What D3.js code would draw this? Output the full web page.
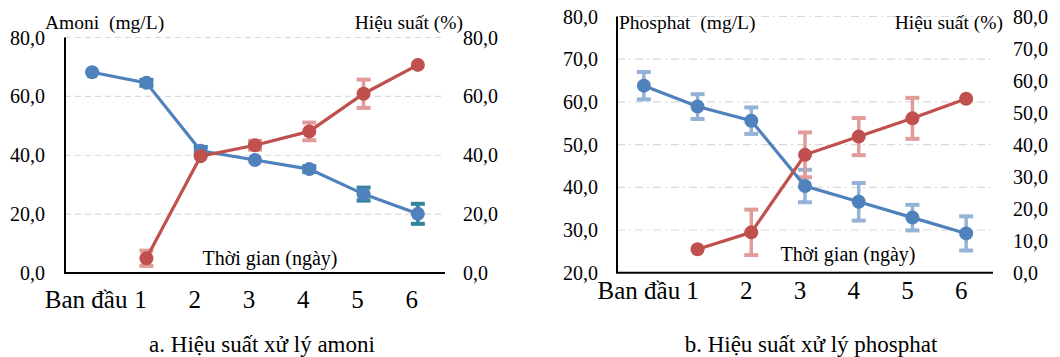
<!DOCTYPE html>
<html><head><meta charset="utf-8">
<script src="https://cdn.jsdelivr.net/npm/d3@7"></script>
<style>
body{margin:0;background:#fff;}
</style></head>
<body><svg id="c" width="1060" height="357"></svg>
<script>
const categories = ["Ban đầu","1","2","3","4","5","6"];
const amoniConc    = [68.2, 64.6, 41.5, 38.4, 35.3, 26.8, 20.1];
const amoniConcErr = [0, 1.0, 1.3, 0, 1.0, 2.2, 3.4];
const amoniEff     = [null, 5.0, 39.7, 43.4, 48.1, 60.9, 70.7];
const amoniEffErr  = [null, 2.6, 0, 1.5, 3.0, 4.8, 0];
const phosConc     = [63.8, 58.9, 55.6, 40.3, 36.6, 32.9, 29.2];
const phosConcErr  = [3.2, 2.9, 3.1, 3.8, 4.4, 3.0, 4.0];
const phosEff      = [null, 7.3, 12.6, 36.8, 42.5, 48.2, 54.3];
const phosEffErr   = [null, 0, 7.1, 7.0, 5.8, 6.4, 0];
const ticksLeftA  = [0, 20, 40, 60, 80];
const ticksRightA = [0, 20, 40, 60, 80];
const ticksLeftB  = [20, 30, 40, 50, 60, 70, 80];
const ticksRightB = [0, 10, 20, 30, 40, 50, 60, 70, 80];

const FONT = '"Liberation Serif"';
const svg = d3.select("#c");
const fmt = v => d3.format(".1f")(v).replace(".", ",");

function drawChart(o){
  const g = svg.append("g");
  const x = d3.scaleBand().domain(categories).range([o.x0, o.x1]);
  const xl = d3.scaleBand().domain(categories).range([o.x0 + o.labShift, o.x1 + o.labShift]);
  const yL = d3.scaleLinear().domain(o.leftDom).range([o.yBot, o.yTop]);
  const yR = d3.scaleLinear().domain(o.rightDom).range([o.yBot, o.yTop]);
  const cx = c => x(c) + x.bandwidth()/2;
  const txt = sel => sel.style("font-family", FONT).attr("fill", "#000");

  g.selectAll(".grid").data(o.leftTicks.filter(t => t !== o.leftDom[0])).enter().append("line")
    .attr("x1", o.x0).attr("x2", o.x1).attr("y1", d => yL(d)).attr("y2", d => yL(d))
    .attr("stroke", "#d9d9d9").attr("stroke-width", 1.2).attr("stroke-dasharray", o.gridDash);

  g.append("line").attr("x1", o.x0).attr("x2", o.x0).attr("y1", yL(o.leftDom[1])).attr("y2", o.yBot)
    .attr("stroke", "#000").attr("stroke-width", 2);
  g.append("line").attr("x1", o.x0 - 1).attr("x2", o.x1).attr("y1", o.yBot).attr("y2", o.yBot)
    .attr("stroke", "#000").attr("stroke-width", 2);

  g.selectAll(".tl").data(o.leftTicks).enter().append("text").call(txt)
    .attr("x", o.x0 + o.leftLabOff).attr("y", d => yL(d)).attr("dy", "0.35em")
    .attr("text-anchor", "end").attr("font-size", 20).text(fmt);
  g.selectAll(".tr").data(o.rightTicks).enter().append("text").call(txt)
    .attr("x", o.x1 + o.rightLabOff).attr("y", d => yR(d)).attr("dy", "0.35em")
    .attr("text-anchor", "start").attr("font-size", 20).text(fmt);
  g.selectAll(".tc").data(categories).enter().append("text").call(txt)
    .attr("x", d => xl(d) + xl.bandwidth()/2).attr("y", o.catY)
    .attr("text-anchor", "middle").attr("font-size", 25).text(d => d);

  g.append("text").call(txt).attr("x", o.leftTitleX).attr("y", 29).attr("font-size", 19.5)
    .style("white-space", "pre").text(o.leftTitle);
  g.append("text").call(txt).attr("x", o.rightTitleX).attr("y", 29).attr("font-size", 19.5)
    .attr("text-anchor", "end").text("Hiệu suất (%)");
  g.append("text").call(txt).attr("x", o.timeX).attr("y", o.timeY).attr("font-size", 20)
    .attr("text-anchor", "middle").text("Thời gian (ngày)");
  g.append("text").call(txt).attr("x", o.capX).attr("y", 352).attr("font-size", 23)
    .attr("text-anchor", "middle").text(o.caption);

  function errBars(vals, errs, y, color){
    const d = categories.map((c, i) => ({c, v: vals[i], e: errs[i]})).filter(d => d.v != null && d.e > 0);
    const eg = g.append("g").attr("stroke", color);
    eg.selectAll(".v").data(d).enter().append("line")
      .attr("x1", d => cx(d.c)).attr("x2", d => cx(d.c))
      .attr("y1", d => y(d.v - d.e)).attr("y2", d => y(d.v + d.e)).attr("stroke-width", 3.5);
    eg.selectAll(".t").data(d).enter().append("line")
      .attr("x1", d => cx(d.c) - 7).attr("x2", d => cx(d.c) + 7)
      .attr("y1", d => y(d.v + d.e)).attr("y2", d => y(d.v + d.e)).attr("stroke-width", 4);
    eg.selectAll(".b").data(d).enter().append("line")
      .attr("x1", d => cx(d.c) - 7).attr("x2", d => cx(d.c) + 7)
      .attr("y1", d => y(d.v - d.e)).attr("y2", d => y(d.v - d.e)).attr("stroke-width", 4);
  }
  function series(vals, y, color){
    const d = categories.map((c, i) => ({c, v: vals[i]})).filter(d => d.v != null);
    g.append("path").datum(d)
      .attr("d", d3.line().x(d => cx(d.c)).y(d => y(d.v)))
      .attr("fill", "none").attr("stroke", color).attr("stroke-width", 3.2);
    g.selectAll(null).data(d).enter().append("circle")
      .attr("cx", d => cx(d.c)).attr("cy", d => y(d.v)).attr("r", 7).attr("fill", color);
  }
  errBars(o.conc, o.concErr, yL, o.concErrColor);
  errBars(o.eff, o.effErr, yR, o.effErrColor);
  series(o.conc, yL, "#4f81bd");
  series(o.eff, yR, "#c0504d");
}

drawChart({
  x0: 65, x1: 445, yTop: 37.5, yBot: 273, labShift: -6,
  leftDom: [0, 80], rightDom: [0, 80], leftTicks: ticksLeftA, rightTicks: ticksRightA,
  gridDash: "6,4", leftLabOff: -20, rightLabOff: 18, catY: 308,
  leftTitle: "Amoni  (mg/L)", leftTitleX: 45, rightTitleX: 463,
  timeX: 270, timeY: 265, caption: "a. Hiệu suất xử lý amoni", capX: 262,
  conc: amoniConc, concErr: amoniConcErr, eff: amoniEff, effErr: amoniEffErr,
  concErrColor: "#31849b", effErrColor: "#e19c9a"
});
drawChart({
  x0: 617, x1: 993, yTop: 16.5, yBot: 272.7, labShift: -5,
  leftDom: [20, 80], rightDom: [0, 80], leftTicks: ticksLeftB, rightTicks: ticksRightB,
  gridDash: "8,4,2,4", leftLabOff: -19, rightLabOff: 20, catY: 299,
  leftTitle: "Phosphat  (mg/L)", leftTitleX: 619, rightTitleX: 1003,
  timeX: 848, timeY: 261, caption: "b. Hiệu suất xử lý phosphat", capX: 811,
  conc: phosConc, concErr: phosConcErr, eff: phosEff, effErr: phosEffErr,
  concErrColor: "#95b3d7", effErrColor: "#e19c9a"
});
</script></body></html>
